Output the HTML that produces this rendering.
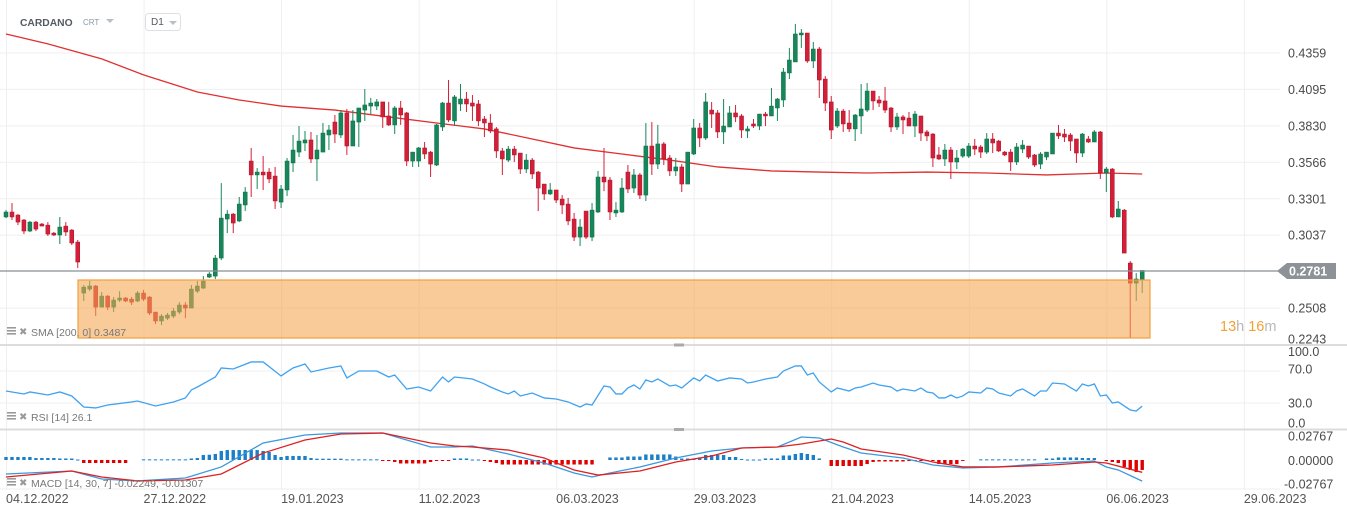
<!DOCTYPE html>
<html><head><meta charset="utf-8">
<style>
html,body{margin:0;padding:0;background:#fff;}
svg{display:block;font-family:"Liberation Sans",sans-serif;}
</style></head>
<body>
<svg id="chart" width="1347" height="516" viewBox="0 0 1347 516" xmlns="http://www.w3.org/2000/svg">
  <rect x="0" y="0" width="1347" height="516" fill="#ffffff"/>
  <g id="grid"></g>
  <g id="sma"></g>
  <g id="candles"></g>
  <rect x="78" y="280" width="1072" height="58" fill="#f5a650" fill-opacity="0.58" stroke="#f0a040" stroke-width="1.2"/>
  <line x1="0" y1="271" x2="1280" y2="271" stroke="#8a8f94" stroke-width="1.2"/>
  <g>
    <polygon points="1277,271 1287,263 1336,263 1336,279 1287,279" fill="#8c9297"/>
    <text x="1289" y="275.5" font-size="12.5" font-weight="bold" fill="#ffffff">0.2781</text>
  </g>
  <text x="1220" y="331" font-size="14.5"><tspan fill="#f5a032">13</tspan><tspan fill="#b8b8b8">h </tspan><tspan fill="#f5a032">16</tspan><tspan fill="#b8b8b8">m</tspan></text>
  <g id="yaxis"></g>
  <g id="rsi"></g>
  <g id="macd"></g>
  <g id="xaxis"></g>

  <line x1="0" y1="345" x2="1347" y2="345" stroke="#dcdcdc" stroke-width="2"/>
  <line x1="0" y1="429.5" x2="1347" y2="429.5" stroke="#dcdcdc" stroke-width="2"/>
  <rect x="674" y="343.5" width="10" height="3" fill="#aaaaaa"/>
  <rect x="674" y="428" width="10" height="3" fill="#aaaaaa"/>

  <g>
    <text x="20" y="26" font-size="10.3" font-weight="bold" fill="#555b61">CARDANO</text>
    <text x="83" y="25" font-size="8" fill="#8a9aa6">CRT</text>
    <polygon points="106,19 114,19 110,23" fill="#b8c0c6"/>
    <g>
      <rect x="145.5" y="13.5" width="35" height="17" rx="3" fill="#fff" stroke="#e0e0e0"/>
      <text x="151" y="25" font-size="10" fill="#555b61">D1</text>
      <polygon points="169,21 177,21 173,25" fill="#b8c0c6"/>
    </g>
  </g>

  <g>
    <g fill="#9a9a9a"><rect x="7" y="327" width="9" height="1.6"/><rect x="7" y="330" width="9" height="1.6"/><rect x="7" y="333" width="9" height="1.6"/></g>
    <text x="19" y="335" font-size="10" fill="#9a9a9a">✖</text>
    <text x="31" y="336" font-size="10.5" fill="#777">SMA  [200,  0]  0.3487</text>
  </g>
  <g>
    <g fill="#9a9a9a"><rect x="7" y="412" width="9" height="1.6"/><rect x="7" y="415" width="9" height="1.6"/><rect x="7" y="418" width="9" height="1.6"/></g>
    <text x="19" y="420" font-size="10" fill="#9a9a9a">✖</text>
    <text x="31" y="421" font-size="10.5" fill="#777">RSI  [14]  26.1</text>
  </g>
  <g>
    <g fill="#9a9a9a"><rect x="7" y="478" width="9" height="1.6"/><rect x="7" y="481" width="9" height="1.6"/><rect x="7" y="484" width="9" height="1.6"/></g>
    <text x="19" y="486" font-size="10" fill="#9a9a9a">✖</text>
    <text x="31" y="487" font-size="10.5" fill="#777">MACD  [14,  30,  7]  -0.02249,  -0.01307</text>
  </g>
</svg>
<script>
const openP=[0.3169,0.3205,0.3183,0.3147,0.3067,0.3132,0.3118,0.3110,0.3052,0.3038,0.3103,0.3074,0.2987,0.2617,0.2646,0.2668,0.2515,0.2595,0.2515,0.2566,0.2581,0.2573,0.2559,0.2617,0.2588,0.2479,0.2414,0.2435,0.2450,0.2479,0.2530,0.2508,0.2631,0.2653,0.2733,0.2740,0.2871,0.3154,0.3190,0.3140,0.3256,0.3575,0.3474,0.3495,0.3495,0.3466,0.3277,0.3365,0.3561,0.3640,
0.3706,0.3728,0.3590,0.3640,0.3764,0.3858,0.3764,0.3924,0.3684,0.3858,0.3945,0.3974,0.3974,0.4004,0.3902,0.3837,0.3960,0.3924,0.3575,0.3575,0.3670,0.3640,0.3546,0.3822,0.3996,0.3866,0.3989,0.4025,0.3996,0.3989,0.3880,0.3851,0.3808,0.3648,0.3582,0.3662,0.3633,0.3517,0.3582,0.3495,0.3408,0.3336,0.3365,0.3299,0.3263,0.3154,0.3023,0.3212,0.3023,0.3205,
0.3459,0.3437,0.3198,0.3205,0.3495,0.3379,0.3474,0.3328,0.3684,0.3553,0.3699,0.3597,0.3503,0.3532,0.3408,0.3626,0.3815,0.3742,0.3945,0.3924,0.3786,0.3822,0.3924,0.3902,0.3793,0.3844,0.3829,0.3916,0.3902,0.3960,0.4018,0.4214,0.4294,0.4490,0.4504,0.4301,0.4388,0.4170,0.4004,0.3829,0.3938,0.3851,0.3808,0.3902,0.3945,0.4083,0.4018,0.4011,0.3960,0.3822,
0.3895,0.3887,0.3829,0.3902,0.3786,0.3771,0.3619,0.3590,0.3655,0.3568,0.3611,0.3611,0.3684,0.3677,0.3640,0.3735,0.3720,0.3640,0.3640,0.3568,0.3662,0.3684,0.3619,0.3553,0.3604,0.3626,0.3778,0.3771,0.3764,0.3735,0.3633,0.3735,0.3713,0.3786,0.3488,0.3517,0.3169,0.3219,0.2835,0.2689,0.2711];
const highP=[0.3219,0.3270,0.3190,0.3154,0.3140,0.3140,0.3125,0.3132,0.3060,0.3169,0.3132,0.3081,0.3002,0.2675,0.2704,0.2675,0.2624,0.2602,0.2588,0.2631,0.2588,0.2588,0.2631,0.2639,0.2595,0.2479,0.2464,0.2472,0.2508,0.2551,0.2551,0.2675,0.2704,0.2740,0.2769,0.2893,0.3415,0.3219,0.3198,0.3314,0.3386,0.3670,0.3524,0.3611,0.3524,0.3532,0.3401,0.3597,0.3764,0.3829,
0.3793,0.3786,0.3764,0.3851,0.3837,0.3909,0.3945,0.3953,0.3945,0.3960,0.4098,0.4033,0.4025,0.4004,0.4004,0.3974,0.4011,0.3931,0.3640,0.3677,0.3713,0.3648,0.3844,0.4004,0.4163,0.4054,0.4134,0.4076,0.4054,0.4018,0.3902,0.3916,0.3822,0.3670,0.3684,0.3684,0.3633,0.3626,0.3597,0.3503,0.3408,0.3415,0.3365,0.3328,0.3307,0.3198,0.3154,0.3212,0.3270,0.3503,
0.3670,0.3459,0.3277,0.3452,0.3546,0.3517,0.3488,0.3851,0.3858,0.3837,0.3713,0.3619,0.3597,0.3553,0.3640,0.3880,0.3851,0.4069,0.4004,0.3945,0.4025,0.3974,0.3982,0.3916,0.3829,0.3880,0.3916,0.3931,0.4105,0.4033,0.4250,0.4396,0.4570,0.4533,0.4504,0.4439,0.4403,0.4192,0.4047,0.3960,0.3953,0.3945,0.3916,0.4134,0.4141,0.4083,0.4047,0.4112,0.3967,0.3924,
0.3909,0.3931,0.3938,0.3902,0.3800,0.3778,0.3677,0.3699,0.3677,0.3655,0.3670,0.3706,0.3735,0.3691,0.3778,0.3778,0.3728,0.3648,0.3662,0.3706,0.3728,0.3684,0.3626,0.3640,0.3640,0.3778,0.3837,0.3808,0.3778,0.3735,0.3778,0.3757,0.3800,0.3793,0.3532,0.3524,0.3285,0.3227,0.2849,0.2762,0.2784];
const lowP=[0.3161,0.3147,0.3110,0.3045,0.3060,0.3067,0.3103,0.3031,0.3031,0.2973,0.3031,0.2965,0.2798,0.2559,0.2631,0.2450,0.2515,0.2493,0.2479,0.2551,0.2551,0.2530,0.2551,0.2559,0.2457,0.2392,0.2385,0.2421,0.2435,0.2464,0.2435,0.2508,0.2617,0.2646,0.2726,0.2719,0.2856,0.3052,0.3052,0.3132,0.3212,0.3314,0.3372,0.3365,0.3415,0.3227,0.3234,0.3321,0.3495,0.3604,
0.3648,0.3561,0.3430,0.3640,0.3655,0.3706,0.3742,0.3619,0.3684,0.3677,0.3866,0.3916,0.3945,0.3815,0.3829,0.3771,0.3837,0.3539,0.3532,0.3532,0.3590,0.3459,0.3539,0.3793,0.3858,0.3829,0.3938,0.3931,0.3866,0.3829,0.3749,0.3778,0.3597,0.3474,0.3568,0.3568,0.3481,0.3488,0.3445,0.3212,0.3292,0.3328,0.3270,0.3190,0.3110,0.2994,0.2958,0.3009,0.2994,0.3198,
0.3357,0.3147,0.3169,0.3198,0.3343,0.3343,0.3299,0.3285,0.3474,0.3517,0.3546,0.3466,0.3466,0.3350,0.3408,0.3619,0.3677,0.3728,0.3815,0.3742,0.3699,0.3822,0.3858,0.3742,0.3742,0.3815,0.3800,0.3829,0.3902,0.3866,0.3967,0.4170,0.4294,0.4396,0.4287,0.4250,0.4033,0.3938,0.3735,0.3815,0.3786,0.3786,0.3720,0.3771,0.3931,0.3945,0.3967,0.3924,0.3786,0.3800,
0.3771,0.3829,0.3749,0.3720,0.3720,0.3532,0.3582,0.3539,0.3445,0.3517,0.3597,0.3597,0.3619,0.3597,0.3626,0.3633,0.3640,0.3611,0.3503,0.3546,0.3633,0.3590,0.3532,0.3517,0.3582,0.3626,0.3735,0.3713,0.3648,0.3561,0.3604,0.3706,0.3713,0.3445,0.3350,0.3161,0.3169,0.2907,0.2290,0.2559,0.2617];
const closeP=[0.3205,0.3169,0.3132,0.3067,0.3132,0.3081,0.3103,0.3045,0.3038,0.3096,0.3060,0.2980,0.2842,0.2660,0.2668,0.2515,0.2595,0.2515,0.2566,0.2581,0.2559,0.2551,0.2617,0.2573,0.2472,0.2414,0.2450,0.2457,0.2486,0.2530,0.2508,0.2646,0.2668,0.2704,0.2755,0.2871,0.3161,0.3190,0.3125,0.3263,0.3350,0.3474,0.3495,0.3474,0.3445,0.3285,0.3372,0.3575,0.3655,0.3720,
0.3728,0.3590,0.3655,0.3778,0.3800,0.3771,0.3924,0.3684,0.3866,0.3960,0.3982,0.3996,0.4004,0.3895,0.3837,0.3960,0.3909,0.3575,0.3640,0.3670,0.3626,0.3553,0.3837,0.3996,0.3873,0.4040,0.4025,0.3989,0.3974,0.3866,0.3851,0.3793,0.3648,0.3590,0.3662,0.3619,0.3517,0.3582,0.3481,0.3379,0.3336,0.3365,0.3292,0.3256,0.3140,0.3023,0.3096,0.3023,0.3219,0.3459,
0.3423,0.3205,0.3219,0.3379,0.3372,0.3474,0.3328,0.3684,0.3553,0.3699,0.3590,0.3503,0.3532,0.3408,0.3640,0.3815,0.3742,0.4004,0.3916,0.3786,0.3829,0.3924,0.3895,0.3800,0.3808,0.3829,0.3916,0.3902,0.3974,0.4025,0.4221,0.4308,0.4497,0.4504,0.4301,0.4388,0.4163,0.3996,0.3800,0.3938,0.3844,0.3808,0.3909,0.3953,0.4083,0.4011,0.3996,0.3945,0.3822,0.3895,
0.3873,0.3829,0.3916,0.3778,0.3757,0.3597,0.3590,0.3655,0.3568,0.3597,0.3662,0.3684,0.3662,0.3640,0.3735,0.3706,0.3648,0.3619,0.3568,0.3677,0.3691,0.3604,0.3546,0.3626,0.3640,0.3778,0.3757,0.3749,0.3720,0.3633,0.3771,0.3713,0.3786,0.3488,0.3517,0.3169,0.3227,0.2907,0.2689,0.2719,0.2781];
const smaIdx=[0,7,16,23,32,39,46,55,64,72,80,88,95,103,111,119,128,136,144,154,164,174,184,190];
const smaVal=[0.4497,0.4425,0.4316,0.4200,0.4076,0.4018,0.3974,0.3945,0.3895,0.3851,0.3808,0.3735,0.3670,0.3626,0.3582,0.3532,0.3503,0.3495,0.3488,0.3495,0.3488,0.3474,0.3488,0.3481];
const rsiIdx=[0,3,4,7,9,11,13,15,17,21,22,25,28,30,31,32,35,36,38,41,43,46,48,50,51,54,56,57,59,62,64,65,67,69,71,73,74,75,78,80,81,83,84,85,86,88,90,92,94,96,97,98,100,101,102,103,104,105,106,107,108,109,111,112,113,115,116,117,119,121,123,124,125,127,129,130,132,133,134,135,136,138,139,141,142,143,145,146,148,149,150,152,153,154,155,156,157,158,159,160,161,163,164,165,166,168,169,170,172,173,174,175,177,179,180,181,182,183,184,185,186,188,189,190];
const rsiVal=[45,41.3,43.8,40,43.8,38.8,25,23.8,27.5,31.3,32.5,26.3,31.3,36.3,46.3,50,62.5,73.8,72.5,81.3,81.3,63.8,73.8,78.8,68.8,73.8,76.3,61.3,70,70,62.5,65,47.5,50,45,62.5,56.3,62.5,60,53.8,50,43.8,41.3,45,38.8,42.5,36.3,35,31.3,25,28.8,27.5,51.3,50,41.3,41.3,48.8,52.5,47.5,58.8,56.3,60,51.3,52.5,48.8,61.3,57.5,65,57.5,61.3,60,55,56.3,60,62.5,70,76.3,76.3,65,67.5,56.3,43.8,48.8,45,48.8,50,55,52.5,50,45,47.5,45,48.8,43.8,42.5,36.3,36.3,40,36.3,38.8,43.8,42.5,48.8,47.5,42.5,38.8,45,47.5,38.8,45,45,55,53.8,45,53.8,51.3,53.8,38.8,40,30,31.3,21.3,20,26.1];
const macdIdx=[0,11,16,22,30,36,43,50,56,63,71,75,78,84,90,95,98,101,106,112,118,123,129,133,136,140,143,150,155,160,166,175,182,184,186,190];
const macdVal=[-0.0149,-0.0117,-0.0202,-0.0223,-0.0192,-0.0074,0.0181,0.0266,0.0287,0.0287,0.0138,0.0138,0.0149,0.0064,-0.0032,-0.0138,-0.0181,-0.0138,-0.0074,0.0021,0.0096,0.0128,0.0138,0.0245,0.0234,0.0138,0.0074,0.0021,-0.0053,-0.0085,-0.0074,-0.0032,-0.0011,-0.0074,-0.0106,-0.0225];
const sigIdx=[0,11,16,22,30,36,43,50,56,63,71,75,78,84,90,95,99,106,112,118,123,129,133,138,140,143,150,155,160,166,175,182,184,190];
const sigVal=[-0.0181,-0.0117,-0.0181,-0.0223,-0.0213,-0.0149,0.0074,0.0213,0.0277,0.0287,0.0181,0.0149,0.0138,0.0106,0.0021,-0.0106,-0.0160,-0.0117,-0.0021,0.0043,0.0128,0.0138,0.0170,0.0223,0.0192,0.0117,0.0053,-0.0021,-0.0074,-0.0074,-0.0053,-0.0021,-0.0032,-0.0131];
const histVal=[0.0032,0.0032,0.0032,0.0032,0.0032,0.0021,0.0021,0.0021,0.0021,0.0016,0.0016,0.0016,0.0005,
-0.0032,-0.0032,-0.0032,-0.0032,-0.0032,-0.0032,-0.0032,-0.0032,0,0,
0.0007,0.0007,0.0007,0.0007,0.0007,0.0007,0.0007,0.0007,
0.0016,0.0021,0.0053,0.0056,0.0064,0.0096,0.0106,0.0106,0.0106,0.0106,0.0106,0.0106,0.0096,0.0085,0.0053,0.0032,
0.0043,0.0043,0.0043,0.0043,0.0021,0.0014,0.0014,0.0014,0.0014,0.0014,0.0007,0.0007,0.0007,0.0007,0.0007,0.0007,
-0.0005,-0.0007,-0.0021,-0.0037,-0.0037,-0.0037,-0.0037,-0.0037,-0.0021,-0.0005,-0.0005,-0.0005,
0.0016,0.0016,0.0016,0.0005,0.0005,-0.0005,-0.0021,-0.0032,
-0.0048,-0.0048,-0.0048,-0.0048,-0.0048,-0.0048,-0.0048,-0.0048,-0.0048,-0.0048,-0.0048,-0.0048,-0.0048,-0.0048,-0.0048,-0.0048,
0,0,0.0027,0.0027,0.0027,0.0037,0.0037,0.0037,0.0059,0.0059,0.0059,0.0059,0.0059,0.0037,0.0016,0.0016,0.0016,0.0027,
0.0053,0.0053,0.0053,0.0053,0.0032,0.0032,0.0011,0.0005,0.0005,0.0005,0.0016,0.0016,0.0016,0.0048,0.0048,
0.0064,0.0074,0.0064,0.0053,0.0016,0,
-0.0064,-0.0064,-0.0064,-0.0064,-0.0064,-0.0064,-0.0043,-0.0021,-0.0016,-0.0016,-0.0016,-0.0016,-0.0016,
-0.0011,-0.0011,-0.0011,-0.0011,-0.0011,-0.0043,-0.0043,-0.0043,-0.0043,-0.0005,0,0,
0.0007,0.0007,0.0007,0.0007,0.0007,0.0007,0.0007,0.0007,0.0007,0.0007,0,0.0016,0.0016,0.0027,0.0027,0.0027,0.0027,0.0021,0.0021,0.0021,
0,-0.0011,-0.0021,-0.0032,-0.0074,-0.0106,-0.0128,-0.0106];
const priceTicks=["0.4359","0.4095","0.3830","0.3566","0.3301","0.3037","0.2508","0.2243"];
const rsiTicks=[100,70,30,0];
const macdTicks=["0.02767","0.00000","-0.02767"];
const dateLabels=["04.12.2022","27.12.2022","19.01.2023","11.02.2023","06.03.2023","29.03.2023","21.04.2023","14.05.2023","06.06.2023","29.06.2023"];

const NS="http://www.w3.org/2000/svg";
function mk(tag,attrs,parent){const e=document.createElementNS(NS,tag);for(const k in attrs)e.setAttribute(k,attrs[k]);parent.appendChild(e);return e;}
const xS=i=>6+i*5.98;
const yP=p=>53+(0.4359-p)*1378;
const yR=v=>427-v*0.8;
const yM=v=>460-v*(26/0.02767);

const grid=document.getElementById('grid');
dateLabels.forEach((d,k)=>{
  const x=xS(k*23)+0.5;
  const l=mk('line',{x1:x,y1:0,x2:x,y2:490,stroke:'#efefef','stroke-width':1},grid);
  
  
});
priceTicks.forEach(t=>{
  const y=yP(parseFloat(t));
  if(y>340) return;
  const l=mk('line',{x1:0,y1:y,x2:1280,y2:y,stroke:'#efefef','stroke-width':1},grid);
  
  
});
[70,30].forEach(v=>{
  const l=mk('line',{x1:0,y1:yR(v),x2:1280,y2:yR(v),stroke:'#efefef','stroke-width':1},grid);
  
  
});
const gb=mk('line',{x1:0,y1:489,x2:1280,y2:489,stroke:'#efefef','stroke-width':1},grid);



const smaG=document.getElementById('sma');
const sp=mk('polyline',{points:smaIdx.map((i,k)=>xS(i)+','+yP(smaVal[k])).join(' '),fill:'none',stroke:'#e03030','stroke-width':1.3},smaG);



const cg=document.getElementById('candles');
closeP.forEach((c,i)=>{
  const o=openP[i],h=highP[i],l=lowP[i];
  const up=c>=o;
  const col=up?'#16875a':'#d41f38';
  const x=xS(i);
  const g=mk('g',{},cg);
  
  
  mk('line',{x1:x,y1:yP(h),x2:x,y2:yP(l),stroke:col,'stroke-width':1},g);
  const top=yP(Math.max(o,c)),bot=yP(Math.min(o,c));
  mk('rect',{x:x-2,y:top,width:4,height:Math.max(1.2,bot-top),fill:col,stroke:up?'#0f6b45':'#a8142a','stroke-width':0.5},g);
});

const ya=document.getElementById('yaxis');
priceTicks.forEach(t=>{
  let y=yP(parseFloat(t))+4.5;
  if(y>343) y=343.5;
  const tx=mk('text',{x:1288,y:y,'font-size':12.5,fill:'#4a4a4a'},ya);
  tx.textContent=t;
  
  
});

const rg=document.getElementById('rsi');
const rl=mk('polyline',{points:rsiIdx.map((i,k)=>xS(i)+','+yR(rsiVal[k])).join(' '),fill:'none',stroke:'#3fa2f0','stroke-width':1.3},rg);


const rsiLabY={100:356,70:373.5,30:407.5,0:427.5};
rsiTicks.forEach(v=>{
  const tx=mk('text',{x:1288,y:rsiLabY[v],'font-size':12.5,fill:'#4a4a4a'},rg);
  tx.textContent=v.toFixed(1);
  
  
});

const mg=document.getElementById('macd');
histVal.forEach((v,i)=>{
  if(v===0) return;
  const y0=yM(0),y1=yM(v);
  const r=mk('rect',{x:xS(i)-1.7,y:Math.min(y0,y1),width:3.4,height:Math.max(1,Math.abs(y1-y0)),fill:v>0?'#1a7fc8':'#e00000'},mg);
  
  
});
const ml=mk('polyline',{points:macdIdx.map((i,k)=>xS(i)+','+yM(macdVal[k])).join(' '),fill:'none',stroke:'#3a98dc','stroke-width':1.3},mg);


const sl=mk('polyline',{points:sigIdx.map((i,k)=>xS(i)+','+yM(sigVal[k])).join(' '),fill:'none',stroke:'#e02020','stroke-width':1.3},mg);


const macdLabY=[440.5,465,488.5];
macdTicks.forEach((t,k)=>{
  const tx=mk('text',{x:t[0]==='-'?1284:1288,y:macdLabY[k],'font-size':12.5,fill:'#4a4a4a'},mg);
  tx.textContent=t;
  
  
});

const xa=document.getElementById('xaxis');
dateLabels.forEach((d,k)=>{
  const tx=mk('text',{x:xS(k*23),y:503,'font-size':12.5,fill:'#555'},xa);
  tx.textContent=d;
  
  
});
</script>
</body></html>
